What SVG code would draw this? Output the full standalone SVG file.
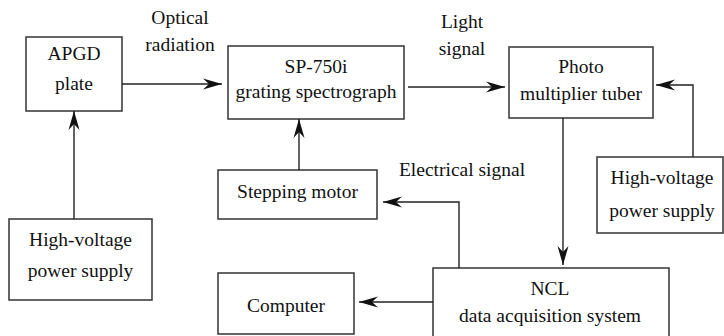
<svg xmlns="http://www.w3.org/2000/svg" width="724" height="336" viewBox="0 0 724 336">
<defs>
<style>
.box{fill:#fff;stroke:#333;stroke-width:1.5}
.t{font-family:"Liberation Serif","Times New Roman",serif;font-size:19.5px;fill:#111;text-anchor:middle}
.c{fill:none;stroke:#222;stroke-width:1.4}
</style>
<marker id="ah" markerUnits="userSpaceOnUse" viewBox="-20 -7 21 14" refX="0" refY="0" markerWidth="21" markerHeight="14" orient="auto">
<path d="M0,0 L-19,-5.5 L-13,0 L-19,5.5 Z" fill="#111"/>
</marker>
</defs>
<rect width="724" height="336" fill="#fff"/>
<g id="apgd"><rect class="box" x="26" y="37" width="96" height="74"/><text class="t" x="74" y="60">APGD</text><text class="t" x="74" y="90">plate</text></g>
<g id="sp"><rect class="box" x="228" y="46" width="176" height="73"/><text class="t" x="316" y="73">SP-750i</text><text class="t" x="316" y="98">grating spectrograph</text></g>
<g id="photo"><rect class="box" x="509" y="47" width="144" height="71"/><text class="t" x="581" y="73">Photo</text><text class="t" x="581" y="100">multiplier tuber</text></g>
<g id="hvright"><rect class="box" x="597" y="157" width="126" height="76"/><text class="t" x="662" y="184">High-voltage</text><text class="t" x="662" y="217">power supply</text></g>
<g id="hvleft"><rect class="box" x="9" y="219" width="143" height="81"/><text class="t" x="80.5" y="246">High-voltage</text><text class="t" x="80.5" y="277">power supply</text></g>
<g id="stepping"><rect class="box" x="218" y="170" width="159" height="49"/><text class="t" x="297.5" y="198">Stepping motor</text></g>
<g id="computer"><rect class="box" x="218" y="273" width="136" height="61"/><text class="t" x="286" y="312">Computer</text></g>
<g id="ncl"><rect class="box" x="433" y="268" width="236" height="80"/><text class="t" x="550" y="295">NCL</text><text class="t" x="550" y="322">data acquisition system</text></g>
<g id="labels">
<text class="t" x="180" y="24">Optical</text><text class="t" x="180" y="51">radiation</text>
<text class="t" x="462" y="28">Light</text><text class="t" x="462" y="55">signal</text>
<text class="t" x="462" y="176">Electrical signal</text>
</g>
<g id="connectors">
<path class="c" d="M74,219 V111" marker-end="url(#ah)"/>
<path class="c" d="M122,84 H222" marker-end="url(#ah)"/>
<path class="c" d="M408,87 H505" marker-end="url(#ah)"/>
<path class="c" d="M693,157 V85 H656" marker-end="url(#ah)"/>
<path class="c" d="M563,118 V265" marker-end="url(#ah)"/>
<path class="c" d="M459,268 V202 H383" marker-end="url(#ah)"/>
<path class="c" d="M433,302 H359" marker-end="url(#ah)"/>
<path class="c" d="M299,170 V119" marker-end="url(#ah)"/>
</g>
</svg>
